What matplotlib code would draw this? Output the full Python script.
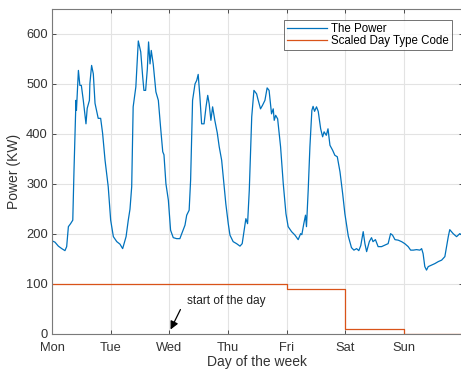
import matplotlib.pyplot as plt
import numpy as np

plt.rcParams['font.family'] = ['Liberation Sans', 'DejaVu Sans']

# hours since Monday 00:00 and measured load in kW
hours = [0.0, 0.3, 1.2, 2.6, 4.0, 5.3, 6.0, 6.7, 7.6, 8.5, 9.0, 9.8, 10.0, 10.8,
         11.4, 12.0, 12.8, 13.9, 14.4, 15.3, 15.5, 16.2, 16.9, 17.6, 18.9, 19.9,
         20.7, 21.7, 23.0, 24.0, 25.1, 26.5, 27.8, 28.9, 30.3, 31.2, 31.9, 32.6,
         33.2, 34.3, 35.3, 36.3, 37.1, 37.6, 38.3, 39.0, 39.5, 40.1, 40.6, 41.4,
         42.5, 43.5, 44.4, 45.3, 45.8, 46.6, 47.6, 48.5, 49.6, 51.0, 52.3, 53.4,
         54.4, 55.1, 56.1, 56.7, 57.5, 58.5, 59.2, 59.8, 60.5, 61.2, 62.2, 63.0,
         63.7, 64.3, 65.0, 65.7, 66.6, 67.6, 68.4, 69.4, 70.3, 71.1, 72.1, 72.8,
         74.1, 75.5, 76.9, 77.8, 78.5, 79.3, 80.0, 80.7, 81.7, 82.6, 83.7, 84.2,
         85.3, 86.1, 87.1, 88.0, 88.8, 89.8, 90.5, 90.9, 91.5, 92.3, 93.5, 94.6,
         95.7, 96.6, 98.0, 99.4, 100.7, 101.7, 102.2, 103.0, 103.7, 104.1, 104.8,
         105.5, 106.3, 106.8, 107.4, 108.2, 108.9, 109.9, 110.7, 111.3, 112.2,
         112.9, 113.7, 114.8, 115.7, 116.7, 117.8, 118.9, 119.8, 121.2, 122.5,
         123.5, 124.6, 125.5, 126.3, 127.3, 128.0, 128.7, 129.8, 130.7, 131.3,
         132.3, 133.4, 134.8, 136.2, 137.5, 138.5, 139.3, 140.3, 141.6, 143.0,
         144.3, 145.7, 146.7, 147.8, 149.1, 150.5, 151.2, 151.8, 152.5, 153.2,
         153.9, 155.3, 156.6, 158.0, 159.4, 160.7, 161.4, 162.1, 162.7, 164.1,
         165.5, 166.8, 168.0]
power = [186, 185, 183, 175, 170, 166, 174, 214, 220, 227, 327, 467, 447, 527,
         497, 497, 467, 420, 451, 467, 501, 537, 520, 461, 431, 431,
         401, 347, 294, 227, 194, 184, 179, 170, 194, 227, 249, 294,
         454, 494, 586, 564, 514, 487, 487, 530, 584, 540, 567, 540,
         484, 467, 414, 364, 358, 300, 267, 207, 192, 190, 190, 204,
         217, 237, 247, 307, 467, 500, 507, 519, 474, 420, 420, 454,
         477, 460, 427, 454, 427, 402, 374, 347, 300, 260, 220, 197,
         184, 180, 175, 180, 204, 230, 220, 287, 434, 487, 480, 470,
         450, 457, 467, 492, 487, 440, 450, 427, 437, 430, 374, 300,
         240, 214, 204, 197, 188, 200, 198, 220, 237, 214, 287,
         374, 447, 455, 445, 454, 445, 410, 394, 404, 397,
         410, 377, 367, 357, 354, 324, 280, 240, 195, 172,
         167, 170, 166, 176, 204, 180, 164, 184, 192, 184,
         188, 174, 174, 177, 180, 200, 197, 188, 187, 184,
         180, 174, 167, 167, 168, 167, 170, 160, 134, 127,
         134, 137, 140, 144, 147, 154, 174, 194, 208, 200,
         194, 200, 196]

days = ['Mon', 'Tue', 'Wed', 'Thu', 'Fri', 'Sat', 'Sun']
day_code = [10, 10, 10, 10, 9, 1, 0]
code_scale = 10

t = np.array(hours) / 24.0
code_x = list(range(len(days))) + [7]
code_y = [c * code_scale for c in day_code] + [day_code[-1] * code_scale]

fig = plt.figure(figsize=(4.61, 3.76), dpi=100)
ax = fig.add_axes([52 / 461, 1 - 333.5 / 376, 410.7 / 461, 324.5 / 376])

ax.plot(t, power, color='#0072BD', lw=0.9, label='The Power')
ax.step(code_x, code_y, where='post', color='#D95319', lw=0.9,
        label='Scaled Day Type Code')

ax.set_xlim(0, 7)
ax.set_ylim(0, 650)
ax.set_xticks(range(len(days)))
ax.set_xticklabels(days)
ax.set_yticks(range(0, 700, 100))

ax.grid(True, color='#e3e3e3', lw=0.8)
ax.set_axisbelow(True)
ax.tick_params(direction='in', length=3, width=0.6, colors='#333333',
               labelsize=9.3, top=True, right=True)
ax.tick_params(axis='x', pad=6)
ax.tick_params(axis='y', pad=3)
for s in ax.spines.values():
    s.set_color('#7a7a7a')
    s.set_linewidth(0.8)

ax.set_xlabel('Day of the week', fontsize=10, color='#333333', labelpad=1)
ax.set_ylabel('Power (KW)', fontsize=10, color='#333333', labelpad=4)

ax.annotate('', xy=(2.0, 3), xytext=(2.21, 53),
            arrowprops=dict(arrowstyle='-|>', color='black', lw=0.9,
                            mutation_scale=12))
ax.text(2.3, 65, 'start of the day', fontsize=8.6, color='#222222',
        va='center', ha='left')

leg = ax.legend(loc='upper right', fontsize=8.3, frameon=True, fancybox=False,
                edgecolor='#333333', handlelength=3.4, borderaxespad=0.95,
                labelspacing=0.05, borderpad=0.25, handletextpad=0.4)
leg.get_frame().set_linewidth(0.6)

fig.savefig('out.png', dpi=100)
